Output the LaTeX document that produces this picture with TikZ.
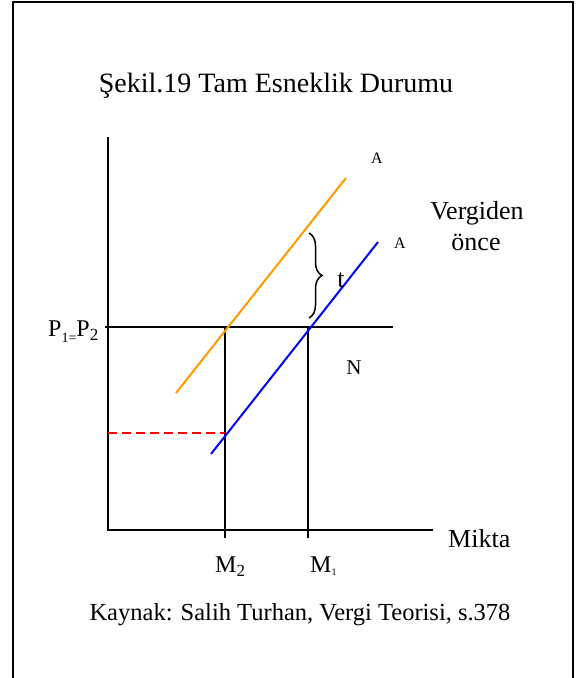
\documentclass[tikz,border=0pt]{standalone}
\usepackage{fontspec}
\setmainfont{Liberation Serif}
\usetikzlibrary{decorations.pathreplacing}
\definecolor{supply1}{RGB}{255,153,0}
\definecolor{supply2}{RGB}{0,0,255}
\begin{document}
\begin{tikzpicture}[x=1pt,y=-1pt,
  frame/.style={line width=2pt,black},
  axis/.style={line width=2pt,black},
  guide/.style={line width=2pt,black},
  curveO/.style={line width=2pt,supply1},
  curveB/.style={line width=2pt,supply2},
  reddash/.style={line width=2pt,red,dash pattern=on 9pt off 5pt},
  lbl/.style={inner sep=0pt,font=\fontsize{26}{30}\selectfont},
  small/.style={inner sep=0pt,font=\fontsize{16}{18}\selectfont}]
\useasboundingbox (0,0) rectangle (581,678);
% frame
\coordinate (fTL) at (13,2);
\coordinate (fTR) at (573,2);
\coordinate (fBL) at (13,678);
\coordinate (fBR) at (573,678);
\draw[frame] (fBL) -- (fTL) -- (fTR) -- (fBR);
% title and caption
\node[inner sep=0pt,anchor=base,font=\fontsize{28}{32}\selectfont] (title) at (276,92) {Şekil.19 Tam Esneklik Durumu};
\node[inner sep=0pt,anchor=base,font=\fontsize{24.5}{28}\selectfont] (caption) at (300,620) {Kaynak: Salih Turhan, Vergi Teorisi, s.378};
% axes
\coordinate (O) at (108,530);
\coordinate (ytop) at (108,137);
\coordinate (xend) at (433,530);
\draw[axis] (ytop) -- (O) -- (xend);
% price line and quantity guides
\coordinate (pL) at (105,327);
\coordinate (pR) at (393,327);
\draw[guide] (pL) -- (pR);
\coordinate (m2top) at (225,327);
\coordinate (m2bot) at (225,538);
\coordinate (m1top) at (308,327);
\coordinate (m1bot) at (308,538);
\draw[guide] (m2top) -- (m2bot);
\draw[guide] (m1top) -- (m1bot);
% red dashed
\coordinate (rL) at (108,433);
\coordinate (rR) at (225,433);
\draw[reddash] (rL) -- (rR);
% supply curves
\coordinate (oB) at (176,393);
\coordinate (oT) at (346,178);
\draw[curveO] (oB) -- (oT);
\coordinate (bB) at (211,454);
\coordinate (bT) at (378,242);
\draw[curveB] (bB) -- (bT);
% brace
\coordinate (brT) at (309,233);
\coordinate (brB) at (309,318);
\draw[line width=1.5pt,decorate,decoration={brace,amplitude=13pt}] (brT) -- (brB);
% labels
\node[lbl] (t) at (341,280) {t};
\node[small] (A1) at (377,158) {A};
\node[small] (A2) at (400,243) {A};
\node[lbl,anchor=base] (verg) at (477,219) {Vergiden};
\node[lbl,anchor=base] (once) at (476,250) {önce};
\node[inner sep=0pt,font=\fontsize{21}{24}\selectfont] (N) at (354,368) {N};
\node[inner sep=0pt,anchor=base west,font=\fontsize{24}{28}\selectfont] (P) at (48,336) {P\raisebox{-0.25em}{\fontsize{14}{16}\selectfont 1=}P\raisebox{-0.2em}{\fontsize{17}{18}\selectfont 2}};
\node[lbl,anchor=base west] (mikta) at (448,547) {Mikta};
\node[inner sep=0pt,anchor=base west,font=\fontsize{24}{28}\selectfont] (M2) at (215,572) {M\raisebox{-0.2em}{\fontsize{17}{18}\selectfont 2}};
\node[inner sep=0pt,anchor=base west,font=\fontsize{24}{28}\selectfont] (M1) at (310,572) {M\raisebox{-0.15em}{\fontsize{10}{12}\selectfont 1}};
\end{tikzpicture}
\end{document}
